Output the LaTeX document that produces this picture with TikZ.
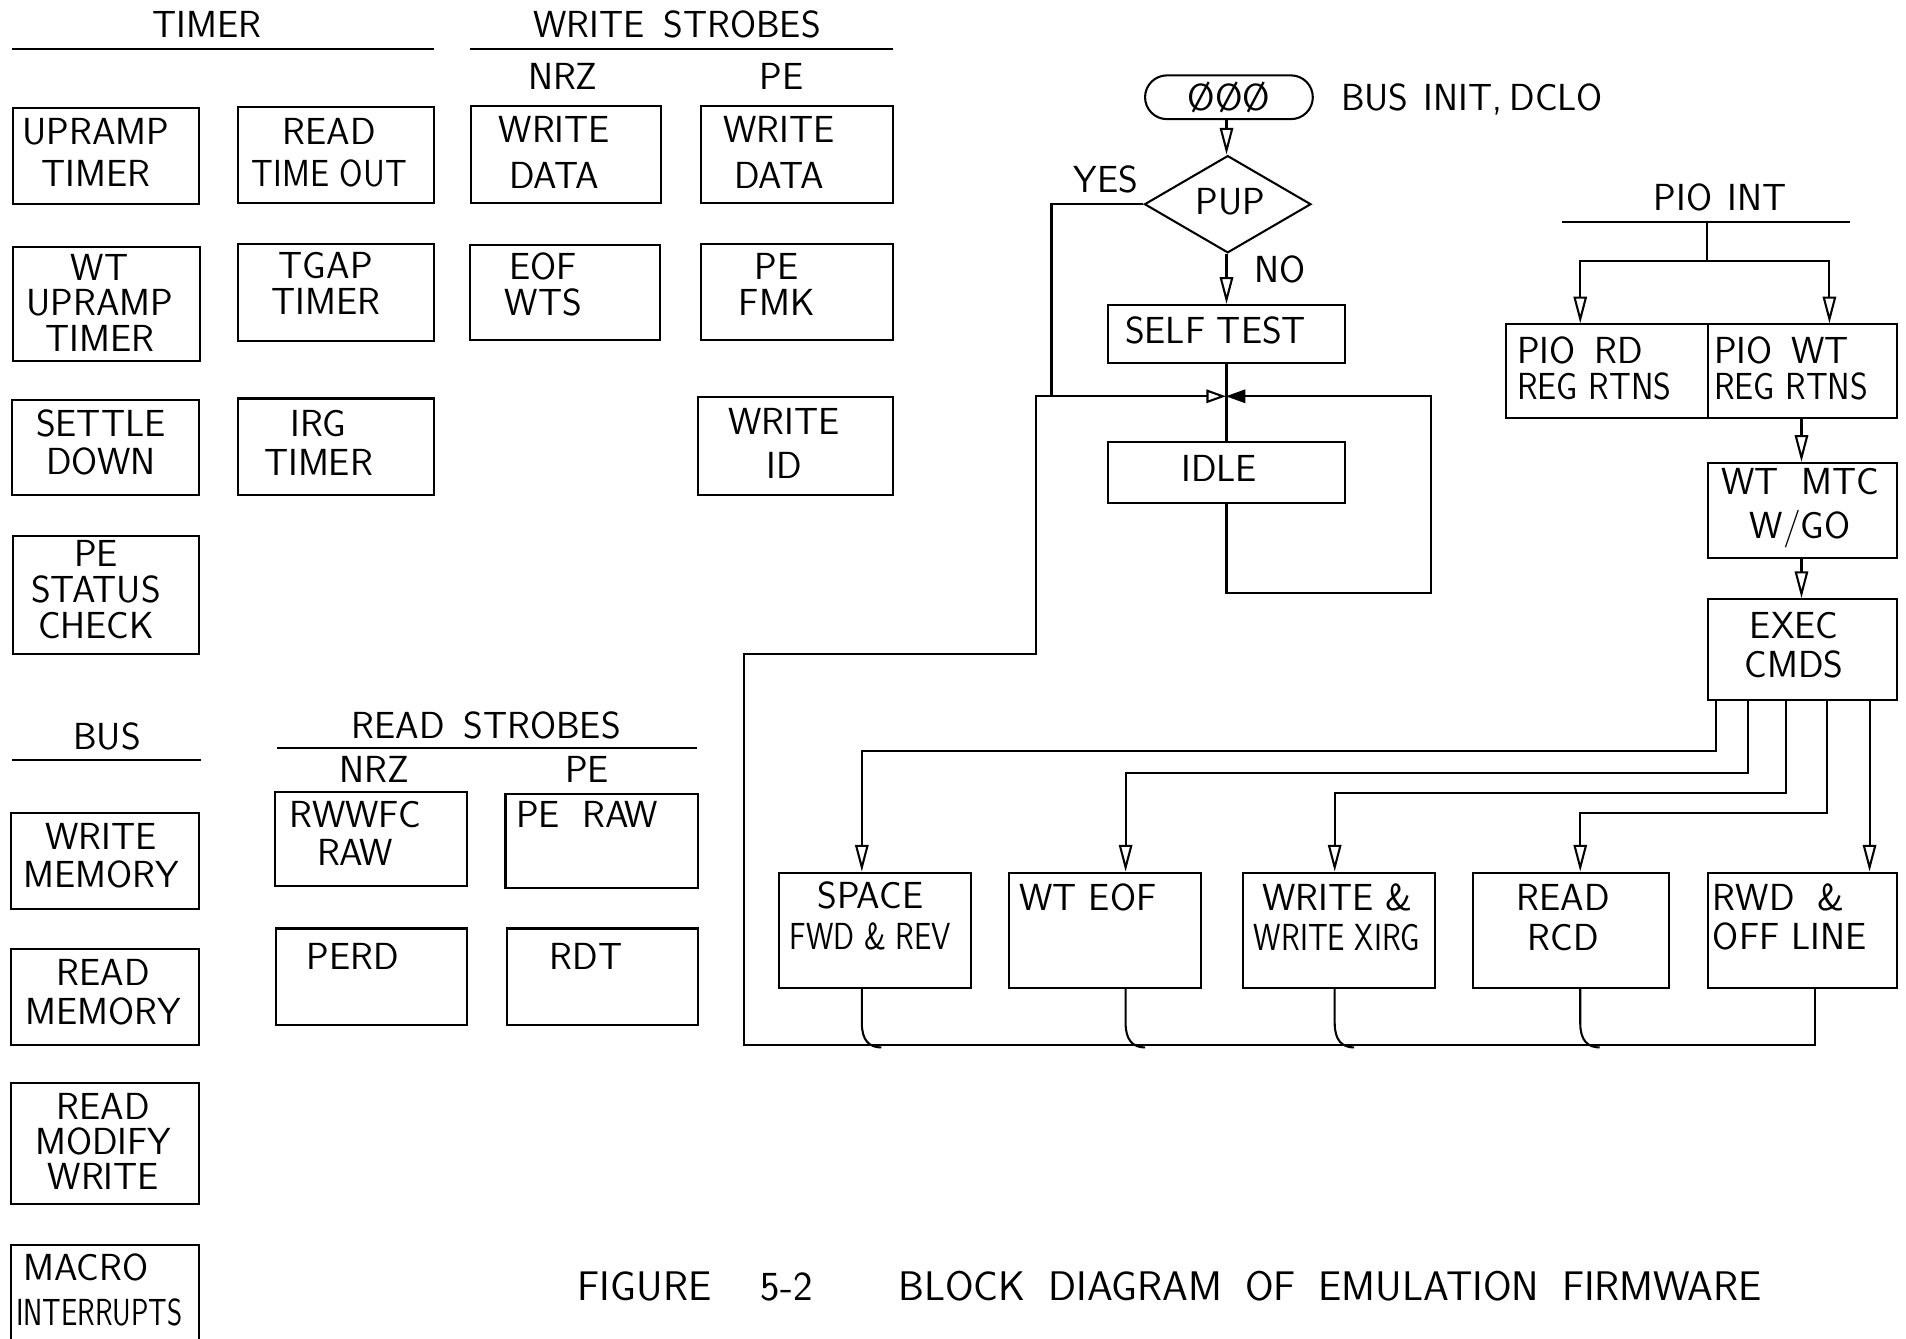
\documentclass[tikz,border=0pt]{standalone}
\usepackage{fontspec}
\usetikzlibrary{arrows.meta,shapes.geometric}
\newcommand\hsq[2]{\scalebox{#1}[1]{#2}}
\newcommand\bxnode[5]{\node[bx, anchor=north west, minimum width={#4-#2}, minimum height={#5-#3}] (#1) at (#2,#3) {};}
\tikzset{
  every node/.style={inner sep=0pt},
  ln/.style={line width=1.7pt},
  bx/.style={draw, ln, rectangle, inner sep=0pt},
  lab/.style={font=\sffamily\fontsize{31}{#1}\selectfont, align=center, inner sep=0pt},
  lab/.default=33,
  arr/.style={-{Triangle[open,length=22pt,width=11pt]}},
  jarrL/.style={-{Triangle[open,length=16pt,width=11pt]}},
  jarrR/.style={-{Triangle[length=16pt,width=11pt]}},
}
\begin{document}
\begin{tikzpicture}[x=1pt,y=-1pt]
\useasboundingbox (0,0) rectangle (1568,1101);
\fill[white] (0,0) rectangle (1568,1101);
\clip (0,0) rectangle (1568,1101);

% ---------- headings ----------
\node[lab] (hTimer) at (170,20) {TIMER};
\draw[ln] (10,40) -- (357,40);
\node[lab] (hWS) at (557,20) {WRITE\hspace{0.5em}STROBES};
\draw[ln] (387,40) -- (735,40);
\node[lab] (hNRZa) at (463,63) {NRZ};
\node[lab] (hPEa) at (643,63) {PE};
\node[lab] (hBus) at (88,606) {BUS};
\draw[ln] (10,625) -- (165,625);
\node[lab] (hRS) at (400,597) {READ\hspace{0.5em}STROBES};
\draw[ln] (228,615) -- (573,615);
\node[lab] (hNRZb) at (308,633) {NRZ};
\node[lab] (hPEb) at (483,633) {PE};

% ---------- left boxes ----------
\bxnode{upramp}{10}{88}{163}{167}
\bxnode{readto}{195}{87}{356}{166}
\bxnode{wdnrz}{387}{86}{543}{166}
\bxnode{wdpe}{576}{86}{734}{166}
\bxnode{wtup}{10}{202}{164}{296}
\bxnode{tgap}{195}{200}{356}{280}
\bxnode{eofwts}{386}{201}{542}{279}
\bxnode{pefmk}{576}{200}{734}{279}
\bxnode{settle}{9}{328}{163}{406}
\bxnode{irg}{195}{327}{356}{406}
\bxnode{writeid}{573}{326}{734}{406}
\bxnode{pestat}{10}{440}{163}{537}
\bxnode{wmem}{8}{668}{163}{747}
\bxnode{rmem}{8}{780}{163}{859}
\bxnode{rmw}{8}{890}{163}{990}
\bxnode{macro}{8}{1023}{163}{1115}
\bxnode{rwwfc}{225}{651}{383}{728}
\bxnode{peraw}{415}{652}{573}{730}
\bxnode{perd}{226}{763}{383}{842}
\bxnode{rdt}{416}{763}{573}{842}

\node[lab=35] (t1) at (79,125.5) {UPRAMP\\TIMER};
\node[lab=35] (t2) at (271,125.5) {READ\\\hsq{0.9}{TIME OUT}};
\node[lab=38] (t3) at (456,125.5) {WRITE\\DATA};
\node[lab=38] (t4) at (641,125.5) {WRITE\\DATA};
\node[lab=29] (t5) at (82,249) {WT\\UPRAMP\\TIMER};
\node[lab=30] (t6) at (268,233) {TGAP\\TIMER};
\node[lab=30] (t7) at (447,234) {EOF\\WTS};
\node[lab=30] (t8) at (639,234) {PE\\FMK};
\node[lab=32] (t9) at (83,364) {SETTLE\\DOWN};
\node[lab=32] (t10) at (262,364) {IRG\\TIMER};
\node[lab=36] (t11) at (645,365) {WRITE\\ID};
\node[lab=30] (t12) at (79,485) {PE\\STATUS\\CHECK};
\node[lab=32] (t13) at (83,704) {WRITE\\MEMORY};
\node[lab=32] (t14) at (85,816) {READ\\MEMORY};
\node[lab=29] (t15) at (85,939) {READ\\MODIFY\\WRITE};
\node[lab=37, align=left, anchor=west] (t16) at (13,1061.5) {\hspace{6pt}MACRO\\\hsq{0.77}{INTERRUPTS}};
\node[lab=31] (t17) at (292,685.5) {RWWFC\\RAW};
\node[lab] (t18) at (483,670) {PE\hspace{0.6em}RAW};
\node[lab] (t19) at (290,787) {PERD};
\node[lab] (t20) at (482,787) {RDT};

% ---------- power-up flow ----------
\node[draw, ln, rounded corners=18pt, minimum width=138pt, minimum height=36pt] (term) at (1011,80) {};
\node[lab] (tterm) at (1011,80) {ØØØ};
\node[lab, anchor=base west] (tbus) at (1103,91) {BUS\hspace{0.4em}INIT,\hspace{0.2em}DCLO};
\node[draw, ln, diamond, minimum width=137pt, minimum height=80pt] (pup) at (1010,168) {};
\node[lab] (tpup) at (1012,166) {PUP};
\node[lab] (tyes) at (910,148) {YES};
\node[lab] (tno) at (1053,222) {NO};
\bxnode{selftest}{911}{250}{1106}{298}
\node[lab] (tself) at (1000,272) {SELF TEST};
\bxnode{idle}{911}{363}{1106}{413}
\node[lab] (tidle) at (1003,385) {IDLE};

\coordinate (J) at (1008.5,326);
\coordinate (yesdrop) at (865,326);
\coordinate (loopR) at (1177,488);
\coordinate (busL) at (612,860);
\coordinate (loopB) at (852,538);
\coordinate (cF) at (1009,0);

\draw[ln,arr] (term.south -| cF) -- (pup.north -| cF);
\draw[ln,arr] (pup.south -| cF) -- (selftest.north -| cF);
\draw[ln] (pup.west) -| (yesdrop);
\draw[ln] (selftest.south -| cF) -- (idle.north -| cF);
\draw[ln,jarrR] (idle.south -| cF) |- (loopR) |- (J);

% ---------- PIO interrupt flow ----------
\node[lab] (pioint) at (1415,162) {PIO\hspace{0.4em}INT};
\coordinate (pbL) at (1285,183);
\coordinate (pbR) at (1522,183);
\draw[ln] (pbL) -- (pbR);
\coordinate (pbar) at (1404,183);
\coordinate (psplit) at (1404,215);
\coordinate (ca) at (1300,0);
\coordinate (cb) at (1505,0);
\coordinate (cm) at (1482,0);
\bxnode{piord}{1238}{266}{1404}{343}
\bxnode{piowt}{1404}{266}{1560}{343}
\bxnode{wtmtc}{1404}{380}{1560}{458}
\bxnode{exec}{1404}{492}{1560}{575}
\node[lab=30, align=left, anchor=west] (tpiord) at (1248,303) {PIO\hspace{0.5em}RD\\\hsq{0.9}{REG RTNS}};
\node[lab=30, align=left, anchor=west] (tpiowt) at (1410,303) {PIO\hspace{0.5em}WT\\\hsq{0.9}{REG RTNS}};
\node[lab=36] (twtmtc) at (1481,418) {WT\hspace{0.6em}MTC\\W/GO};
\node[lab=32] (texec) at (1476,531) {EXEC\\CMDS};

\draw[ln] (pbar) -- (psplit);
\draw[ln,arr] (psplit) -| (piord.north -| ca);
\draw[ln,arr] (psplit) -| (piowt.north -| cb);
\draw[ln,arr] (piowt.south -| cm) -- (wtmtc.north -| cm);
\draw[ln,arr] (wtmtc.south -| cm) -- (exec.north -| cm);

% ---------- command boxes ----------
\bxnode{space}{640}{717}{798}{812}
\bxnode{wteof}{829}{717}{987}{812}
\bxnode{writex}{1022}{717}{1180}{812}
\bxnode{readrcd}{1211}{717}{1372}{812}
\bxnode{rwd}{1404}{717}{1560}{812}
\node[lab=33] (tspace) at (716,753.5) {SPACE\\\hsq{0.82}{FWD \& REV}};
\node[lab] (twteof) at (895,738) {WT EOF};
\node[lab=33] (twrite) at (1100,754.5) {WRITE \&\\\hsq{0.82}{WRITE XIRG}};
\node[lab=33] (tread) at (1286,754.5) {READ\\RCD};
\node[lab=32, align=left, anchor=west] (trwd) at (1409,754) {RWD\hspace{0.6em}\&\\OFF LINE};

\coordinate (cS) at (709,0);
\coordinate (cE) at (926,0);
\coordinate (cW) at (1098,0);
\coordinate (cR) at (1300,0);
\coordinate (cD) at (1538,0);
\coordinate (cDo) at (1493,0);
\coordinate (e1) at (1412,0);
\coordinate (e2) at (1438,0);
\coordinate (e3) at (1469,0);
\coordinate (e4) at (1503,0);

\draw[ln,arr] (exec.south -| e1) -- ++(0,41) -| (space.north -| cS);
\draw[ln,arr] (exec.south -| e2) -- ++(0,59) -| (wteof.north -| cE);
\draw[ln,arr] (exec.south -| e3) -- ++(0,76) -| (writex.north -| cW);
\draw[ln,arr] (exec.south -| e4) -- ++(0,92) -| (readrcd.north -| cR);
\draw[ln,arr] (exec.south -| cD) -- (rwd.north -| cD);

% return bus
\draw[ln,jarrL] (rwd.south -| cDo) |- (busL) |- (loopB) |- (J);
\draw[ln] (space.south -| cS) -- ++(0,28) .. controls +(0,14) and +(-10,0) .. ++(16,20);
\draw[ln] (wteof.south -| cE) -- ++(0,28) .. controls +(0,14) and +(-10,0) .. ++(16,20);
\draw[ln] (writex.south -| cW) -- ++(0,28) .. controls +(0,14) and +(-10,0) .. ++(16,20);
\draw[ln] (readrcd.south -| cR) -- ++(0,28) .. controls +(0,14) and +(-10,0) .. ++(16,20);

% ---------- caption ----------
\node[font=\sffamily\fontsize{34}{40}\selectfont] (capA) at (572,1058) {FIGURE\hspace{1.2em}5-2};
\node[font=\sffamily\fontsize{34}{40}\selectfont] (capB) at (1094,1058) {BLOCK\hspace{0.55em}DIAGRAM\hspace{0.55em}OF\hspace{0.55em}EMULATION\hspace{0.55em}FIRMWARE};
\end{tikzpicture}
\end{document}
